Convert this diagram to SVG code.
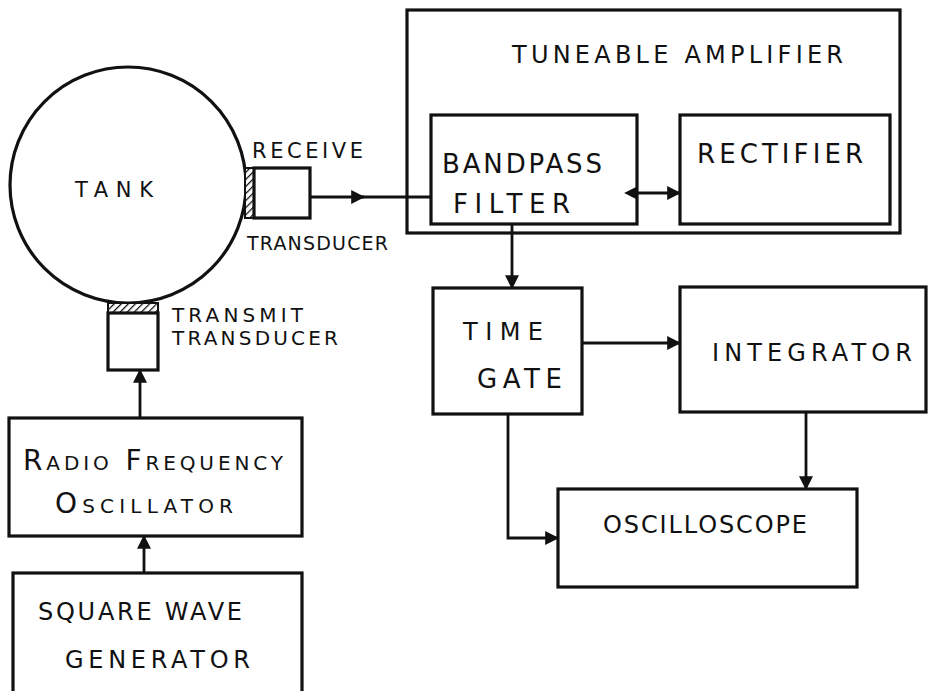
<svg xmlns="http://www.w3.org/2000/svg" width="929" height="691" viewBox="0 0 929 691">
<style>
.box{fill:none;stroke:#111;stroke-width:3.2}
.ln{fill:none;stroke:#111;stroke-width:2.8}
text{font-family:"DejaVu Sans","Liberation Sans",sans-serif;fill:#111;font-size:24px}
.sc{font-variant:small-caps}
</style>
<defs>
<pattern id="hatch" width="5" height="5" patternUnits="userSpaceOnUse" patternTransform="rotate(45)">
<rect width="5" height="5" fill="#fff"/>
<line x1="0" y1="0" x2="0" y2="5" stroke="#111" stroke-width="2.5"/>
</pattern>
<marker id="ah" viewBox="0 0 12 12" refX="11" refY="6" markerWidth="14" markerHeight="14" markerUnits="userSpaceOnUse" orient="auto">
<path d="M0,0 L12,6 L0,12 Z" fill="#111"/>
</marker>
<marker id="ahs" viewBox="0 0 12 12" refX="1" refY="6" markerWidth="14" markerHeight="14" markerUnits="userSpaceOnUse" orient="auto-start-reverse">
<path d="M0,0 L12,6 L0,12 Z" fill="#111"/>
</marker>
</defs>
<rect width="929" height="691" fill="#fff"/>

<g id="tank">
<circle class="box" cx="128" cy="185" r="118"/>
<text x="75" y="197" textLength="78" style="font-size:21px">TANK</text>
</g>

<g id="receive-transducer">
<rect x="245" y="168" width="9" height="50" fill="url(#hatch)" stroke="#111" stroke-width="2"/>
<rect class="box" x="254" y="168" width="56" height="50"/>
<text x="252" y="158" textLength="111" style="font-size:21px">RECEIVE</text>
<text x="247" y="250" textLength="141" style="font-size:19px">TRANSDUCER</text>
</g>

<g id="transmit-transducer">
<rect x="108" y="303" width="50" height="10" fill="url(#hatch)" stroke="#111" stroke-width="2"/>
<rect class="box" x="108" y="313" width="50" height="57"/>
<text x="172" y="322" textLength="131" style="font-size:20px">TRANSMIT</text>
<text x="172" y="345" textLength="166" style="font-size:20px">TRANSDUCER</text>
</g>

<g id="tuneable-amplifier">
<rect class="box" x="407" y="10" width="493" height="223"/>
<text x="512" y="63" textLength="331">TUNEABLE AMPLIFIER</text>
</g>

<g id="bandpass-filter">
<rect class="box" x="431" y="115" width="206" height="109"/>
<text x="442" y="173" textLength="160" style="font-size:26px">BANDPASS</text>
<text x="453" y="213" textLength="117" style="font-size:26px">FILTER</text>
</g>

<g id="rectifier">
<rect class="box" x="680" y="115" width="210" height="109"/>
<text x="697" y="163" textLength="166" style="font-size:26px">RECTIFIER</text>
</g>

<g id="time-gate">
<rect class="box" x="433" y="288" width="149" height="126"/>
<text x="463" y="340" textLength="80">TIME</text>
<text x="477" y="388" textLength="85" style="font-size:26px">GATE</text>
</g>

<g id="integrator">
<rect class="box" x="680" y="287" width="246" height="125"/>
<text x="712" y="361" textLength="200">INTEGRATOR</text>
</g>

<g id="oscilloscope">
<rect class="box" x="558" y="489" width="299" height="98"/>
<text x="603" y="533" textLength="204">OSCILLOSCOPE</text>
</g>

<g id="rf-oscillator">
<rect class="box" x="9" y="418" width="293" height="118"/>
<text class="sc" x="23" y="470" textLength="260" style="font-size:28px">Radio Frequency</text>
<text class="sc" x="55" y="513" textLength="178" style="font-size:28px">Oscillator</text>
</g>

<g id="square-wave-generator">
<rect class="box" x="13" y="573" width="289" height="130"/>
<text x="38" y="620" textLength="204">SQUARE WAVE</text>
<text x="65" y="668" textLength="185">GENERATOR</text>
</g>

<g id="connectors">
<line class="ln" x1="310" y1="197" x2="364" y2="197" marker-end="url(#ah)"/>
<line class="ln" x1="355" y1="197" x2="431" y2="197"/>
<line class="ln" x1="637" y1="193" x2="680" y2="193" marker-start="url(#ahs)" marker-end="url(#ah)"/>
<line class="ln" x1="512" y1="224" x2="512" y2="288" marker-end="url(#ah)"/>
<line class="ln" x1="582" y1="343" x2="680" y2="343" marker-end="url(#ah)"/>
<line class="ln" x1="806" y1="412" x2="806" y2="489" marker-end="url(#ah)"/>
<polyline class="ln" points="508,414 508,538 558,538" marker-end="url(#ah)"/>
<line class="ln" x1="140" y1="418" x2="140" y2="370" marker-end="url(#ah)"/>
<line class="ln" x1="144" y1="573" x2="144" y2="536" marker-end="url(#ah)"/>
</g>
</svg>
